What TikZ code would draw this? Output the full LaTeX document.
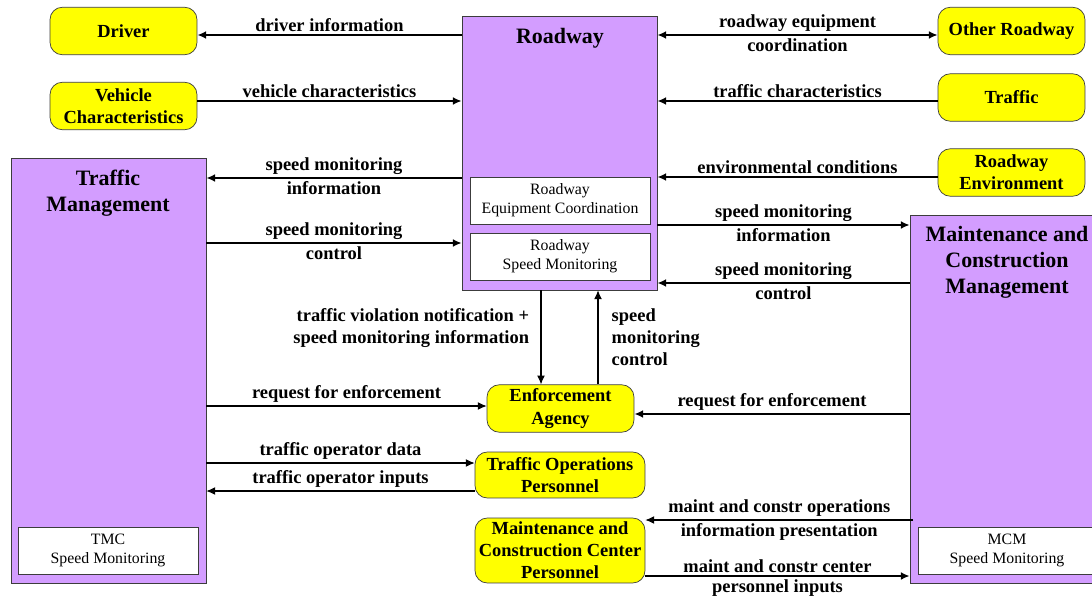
\documentclass[tikz,border=0pt]{standalone}
\usepackage{fontspec}
\setmainfont{Liberation Serif}
\usepackage{tikz}
\usetikzlibrary{arrows.meta}
\usetikzlibrary{positioning}
\definecolor{tpurple}{RGB}{211, 157, 255}
\definecolor{tyellow}{RGB}{255, 255, 0}
\definecolor{tborder}{RGB}{60, 60, 60}
\newcommand{\lblfont}{\fontsize{10.5}{12.6}\selectfont\bfseries}
\newcommand{\ttlfont}{\fontsize{12.5}{14.8}\selectfont\bfseries}
\newcommand{\pspfont}{\fontsize{9}{10.8}\selectfont}
\tikzset{>={Latex[length=5pt, width=4.5pt]}}
\tikzset{term/.style = {draw=tborder, fill=tyellow, rounded corners=7pt, align=center,
                        font=\lblfont, inner sep=1pt,
                        minimum width=2.94cm, minimum height=0.95cm}}
\tikzset{subsys/.style = {draw=tborder, fill=tpurple, inner sep=0}}
\tikzset{ttl/.style = {font=\ttlfont, align=center, inner sep=0}}
\tikzset{psp/.style = {draw=tborder, fill=white, font=\pspfont, align=center, inner sep=0,
                       minimum width=3.6cm, minimum height=0.94cm}}
\tikzset{flow/.style = {->, line width=1.1pt}}
\tikzset{thinflow/.style = {->, line width=0.6pt}}
\tikzset{lbl/.style = {font=\lblfont, align=center, inner sep=1.5pt}}

\begin{document}
\begin{tikzpicture}[x=0.02cm, y=-0.02cm]
    \useasboundingbox (0, 0) rectangle (1092, 598);
    \fill [white] (0, 0) rectangle (1092, 598);

    % subsystems
    \node (roadway) at (559.5, 153) [subsys, minimum width=3.9cm, minimum height=5.48cm] {};
    \node (roadwayttl) at (560, 38) [ttl] {Roadway};
    \node (rec) at (560, 200.5) [psp] {Roadway\\Equipment Coordination};
    \node (rsm) at (560, 256.5) [psp] {Roadway\\Speed Monitoring};

    \node (tm) at (108.5, 370.5) [subsys, minimum width=3.9cm, minimum height=8.5cm] {};
    \node (tmttl) at (108, 193) [ttl] {Traffic\\Management};
    \node (tmcsm) at (108, 550.5) [psp] {TMC\\Speed Monitoring};

    \node (mcm) at (1007, 399) [subsys, minimum width=3.88cm, minimum height=7.36cm] {};
    \node (mcmttl) at (1007, 262) [ttl] {Maintenance and\\Construction\\Management};
    \node (mcmsm) at (1007, 550.5) [psp, minimum width=3.56cm] {MCM\\Speed Monitoring};

    % terminators
    \node (driver) at (123.5, 31) [term] {Driver};
    \node (vehicle) at (123.5, 106) [term] {Vehicle\\Characteristics};
    \node (other) at (1011.5, 31) [term] {Other Roadway};
    \node (traffic) at (1011.5, 97.5) [term] {Traffic};
    \node (renv) at (1011.5, 172.5) [term] {Roadway\\Environment};
    \node (enforce) at (560.5, 408.5) [term] {Enforcement\\Agency};
    \node (tops) at (560, 475) [term, minimum width=3.4cm, minimum height=0.92cm] {Traffic Operations\\Personnel};
    \node (mccp) at (560, 550.5) [term, minimum width=3.4cm, minimum height=1.3cm] {Maintenance and\\Construction Center\\Personnel};

    % flows on the left
    \draw [flow] (roadway.west |- 0, 35) -- (driver.east |- 0, 35)
        node [lbl, midway, above] {driver information};
    \draw [flow] (vehicle.east |- 0, 101) -- (roadway.west |- 0, 101)
        node [lbl, midway, above] {vehicle characteristics};
    \draw [flow] (roadway.west |- 0, 178) -- (tm.east |- 0, 178)
        node [lbl, midway, above] {speed monitoring}
        node [lbl, midway, below] {information};
    \draw [flow] (tm.east |- 0, 243) -- (roadway.west |- 0, 243)
        node [lbl, midway, above] {speed monitoring}
        node [lbl, midway, below] {control};
    \draw [thinflow] (tm.east |- 0, 406) -- (enforce.west |- 0, 406)
        node [lbl, midway, above] {request for enforcement};
    \draw [thinflow] (tm.east |- 0, 463) -- (tops.west |- 0, 463)
        node [lbl, midway, above] {traffic operator data};
    \draw [thinflow] (tops.west |- 0, 491) -- (tm.east |- 0, 491)
        node [lbl, midway, above] {traffic operator inputs};

    % flows on the right
    \draw [<->, line width=1.1pt] (roadway.east |- 0, 35) -- (other.west |- 0, 35)
        node [lbl, midway, above] {roadway equipment}
        node [lbl, midway, below] {coordination};
    \draw [flow] (traffic.west |- 0, 101) -- (roadway.east |- 0, 101)
        node [lbl, midway, above] {traffic characteristics};
    \draw [flow] (renv.west |- 0, 177) -- (roadway.east |- 0, 177)
        node [lbl, midway, above] {environmental conditions};
    \draw [flow] (roadway.east |- 0, 225) -- (mcm.west |- 0, 225)
        node [lbl, midway, above] {speed monitoring}
        node [lbl, midway, below] {information};
    \draw [flow] (mcm.west |- 0, 283) -- (roadway.east |- 0, 283)
        node [lbl, midway, above] {speed monitoring}
        node [lbl, midway, below] {control};
    \draw [flow] (mcm.west |- 0, 414) -- (enforce.east |- 0, 414)
        node [lbl, midway, above] {request for enforcement};
    \draw [thinflow] ([xshift=2pt]mcm.west |- 0, 520) -- (mccp.east |- 0, 520)
        node [lbl, midway, above] {maint and constr operations}
        node [lbl, midway, below] {information presentation};
    \draw [flow] (mccp.east |- 0, 576) -- (mcm.west |- 0, 576)
        node [lbl, midway, above] {maint and constr center}
        node [lbl, midway, below] {personnel inputs};

    % roadway <-> enforcement
    \draw [thinflow] (roadway.south -| 541, 0) -- (enforce.north -| 541, 0)
        node [lbl, pos=0.4, left=5pt, align=right] {traffic violation notification +\\speed monitoring information};
    \draw [thinflow] (enforce.north -| 598, 0) -- (roadway.south -| 598, 0)
        node [lbl, midway, right=6pt, align=left] {speed\\monitoring\\control};
\end{tikzpicture}
\end{document}
